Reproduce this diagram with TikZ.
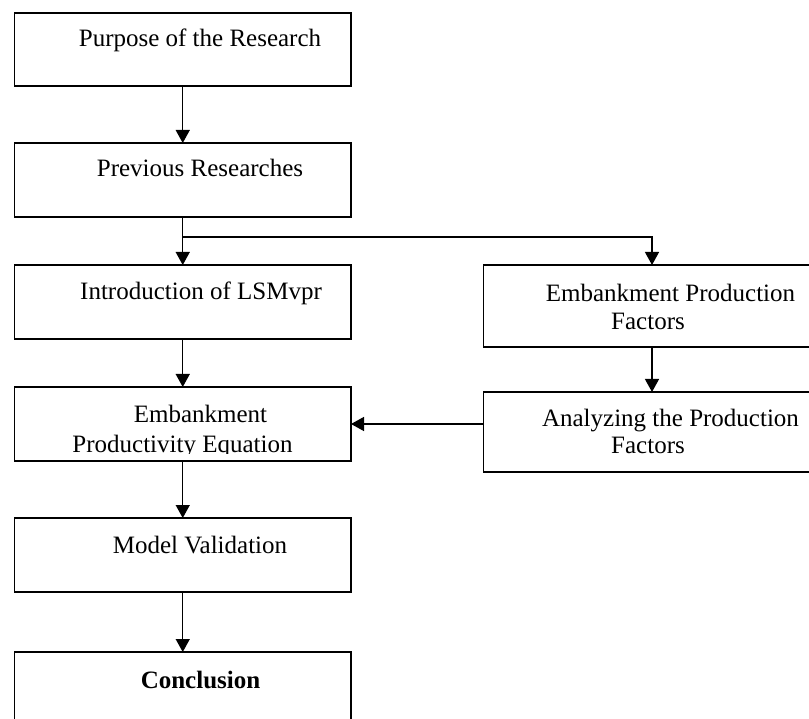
\documentclass[tikz,border=0pt]{standalone}
\usepackage{fontspec}
\setmainfont{Liberation Serif}
\usetikzlibrary{arrows.meta}
\begin{document}
\begin{tikzpicture}[x=1pt,y=-1pt,
  box/.style={draw,line width=1.3pt,minimum width=336.5pt,inner sep=0pt,outer sep=0pt},
  txt/.style={anchor=base,inner sep=0pt,font=\fontsize{25}{28}\selectfont},
  arr/.style={line width=1.3pt,-{Triangle[width=14pt,length=13pt]}},
  ln/.style={line width=1.3pt}]
\useasboundingbox (0,0) rectangle (809,719);
% boxes
\node[box,minimum height=73pt] (purpose) at (182.75,49.5) {};
\node[box,minimum height=74pt] (previous) at (182.75,180) {};
\node[box,minimum height=74pt] (intro) at (182.75,302) {};
\node[box,minimum height=74pt] (epe) at (182.75,424) {};
\node[box,minimum height=74pt] (model) at (182.75,555) {};
\node[box,minimum height=74pt] (concl) at (182.75,689) {};
\node[box,minimum height=82pt] (epf) at (652,306) {};
\node[box,minimum height=80pt] (anal) at (652,432) {};
% texts
\node[txt] (purposeT) at (200,47) {Purpose of the Research};
\node[txt] (previousT) at (200,177) {Previous Researches};
\node[txt] (introT) at (201,300) {Introduction of LSMvpr};
\node[txt] (epeT1) at (200.5,422) {Embankment};
\begin{scope}
\clip (20,430) rectangle (345,453.5);
\node[txt] (epeT2) at (182.5,452) {Productivity Equation};
\end{scope}
\node[txt] (modelT) at (200,553) {Model Validation};
\node[txt] (conclT) at (200.5,688) {\bfseries Conclusion};
\node[txt] (epfT1) at (670.5,302) {Embankment Production};
\node[txt] (epfT2) at (648,330) {Factors};
\node[txt] (analT1) at (670.5,427) {Analyzing the Production};
\node[txt] (analT2) at (648,453) {Factors};
% connectors
\coordinate (split) at (182.75,237);
\draw[arr] (purpose.south) -- (previous.north);
\draw[ln] (previous.south) -- (split);
\draw[arr] (split) -- (intro.north);
\draw[arr] (split) -| (epf.north);
\draw[arr] (intro.south) -- (epe.north);
\draw[arr] (epe.south) -- (model.north);
\draw[arr] (model.south) -- (concl.north);
\draw[arr] (epf.south) -- (anal.north);
\draw[arr] (anal.west |- epe.east) -- (epe.east);
\end{tikzpicture}
\end{document}
